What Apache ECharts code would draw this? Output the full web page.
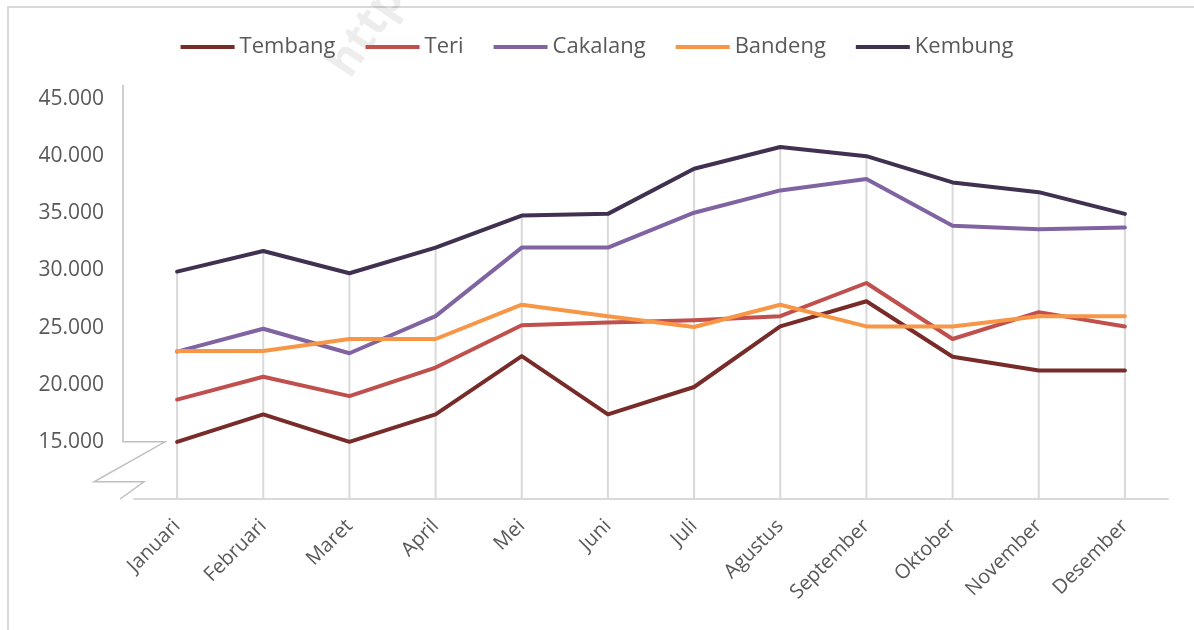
<!DOCTYPE html>
<html>
<head>
    <meta http-equiv="Content-Type" content="text/html; charset=utf-8"/>
    <script src="https://cdn.jsdelivr.net/npm/echarts@6/dist/echarts.min.js"></script>
    <style>
        html, body { margin: 0; padding: 0; background: #fff; }
        #chart { width: 1194px; height: 630px; }
    </style>
</head>
<body>
<div id="chart"></div>

<script type="text/javascript">
    // bulan
    var months = ['Januari', 'Februari', 'Maret', 'April', 'Mei', 'Juni', 'Juli',
        'Agustus', 'September', 'Oktober', 'November', 'Desember'];

    // nilai per jenis ikan
    var tembang  = [15000, 17400, 15000, 17400, 22500, 17400, 19800, 25100, 27300, 22450, 21250, 21250];
    var teri     = [18700, 20700, 19000, 21500, 25200, 25450, 25650, 26000, 28900, 24000, 26350, 25100];
    var cakalang = [22900, 24900, 22750, 26000, 32000, 32000, 35050, 37000, 38000, 33900, 33600, 33750];
    var bandeng  = [22950, 22950, 24000, 24000, 27000, 26000, 25050, 27000, 25100, 25100, 26000, 26000];
    var kembung  = [29900, 31700, 29750, 32000, 34800, 34950, 38900, 40800, 40000, 37700, 36850, 34950];

    var yTicks = [15000, 20000, 25000, 30000, 35000, 40000, 45000];

    var seriesNames = ['Tembang', 'Teri', 'Cakalang', 'Bandeng', 'Kembung'];
    var seriesData = [tembang, teri, cakalang, bandeng, kembung];
    var colors = ['#772C2A', '#C0504D', '#8064A2', '#F79646', '#403151'];

    // garis vertikal dari sumbu ke titik tertinggi tiap bulan
    var dropData = months.map(function (m, i) {
        return Math.max(tembang[i], teri[i], cakalang[i], bandeng[i], kembung[i]);
    });

    var font = '"Open Sans", Lato, sans-serif';
    var grey = '#595959';

    var myChart = echarts.init(document.getElementById('chart'));

    var series = [{
        name: 'drop',
        type: 'bar',
        data: dropData,
        barWidth: 2,
        silent: true,
        z: 1,
        itemStyle: {color: '#D9D9D9'}
    }];
    seriesNames.forEach(function (n, i) {
        series.push({
            name: n,
            type: 'line',
            data: seriesData[i],
            symbol: 'none',
            z: 3 + i,
            lineStyle: {width: 4, color: colors[i], cap: 'round', join: 'round'},
            itemStyle: {color: colors[i]}
        });
    });

    var option = {
        animation: false,
        backgroundColor: '#fff',
        legend: {
            data: seriesNames,
            top: 31,
            left: 'center',
            itemWidth: 54,
            itemHeight: 4,
            itemGap: 30,
            icon: 'rect',
            textStyle: {color: grey, fontSize: 22, fontFamily: font}
        },
        grid: {left: 134, right: 26, top: 99, bottom: 131},
        xAxis: {
            type: 'category',
            data: months,
            boundaryGap: true,
            axisLine: {show: true, lineStyle: {color: '#D9D9D9', width: 2}},
            axisTick: {show: false},
            splitLine: {show: false},
            axisLabel: {
                rotate: 45,
                margin: 24,
                color: grey,
                fontSize: 20,
                fontFamily: font,
                interval: 0
            }
        },
        yAxis: {
            type: 'value',
            min: 10000,
            max: 45000,
            interval: 5000,
            axisLine: {show: false},
            axisTick: {show: false},
            splitLine: {show: false},
            axisLabel: {
                margin: 30,
                color: grey,
                fontSize: 21,
                fontFamily: font,
                formatter: function (v) {
                    if (yTicks.indexOf(v) < 0) return '';
                    return String(v).replace(/\B(?=(\d{3})+(?!\d))/g, '.');
                }
            }
        },
        series: series
    };
    myChart.setOption(option);

    // sumbu Y dengan tanda patah
    var y15 = myChart.convertToPixel({yAxisIndex: 0}, 15000);
    var y10 = myChart.convertToPixel({yAxisIndex: 0}, 10000);
    var yTop = myChart.convertToPixel({yAxisIndex: 0}, 45000) - 14;
    myChart.setOption({
        graphic: [
            {
                type: 'rect',
                shape: {x: 8, y: 7, width: 1300, height: 700},
                style: {fill: 'none', stroke: '#D9D9D9', lineWidth: 2},
                silent: true
            },
            {
                type: 'polyline',
                shape: {points: [[123, yTop], [123, y15], [165, y15], [94, y15 + 40], [144, y15 + 40], [120, y10]]},
                style: {fill: 'none', stroke: '#BFBFBF', lineWidth: 1.5},
                silent: true
            },
            {
                type: 'text',
                x: 320, y: 60,
                rotation: Math.PI / 3.2,
                style: {text: 'http', fill: 'rgba(0,0,0,0.07)', font: 'bold 46px ' + font},
                silent: true
            }
        ]
    });
</script>
</body>
</html>
